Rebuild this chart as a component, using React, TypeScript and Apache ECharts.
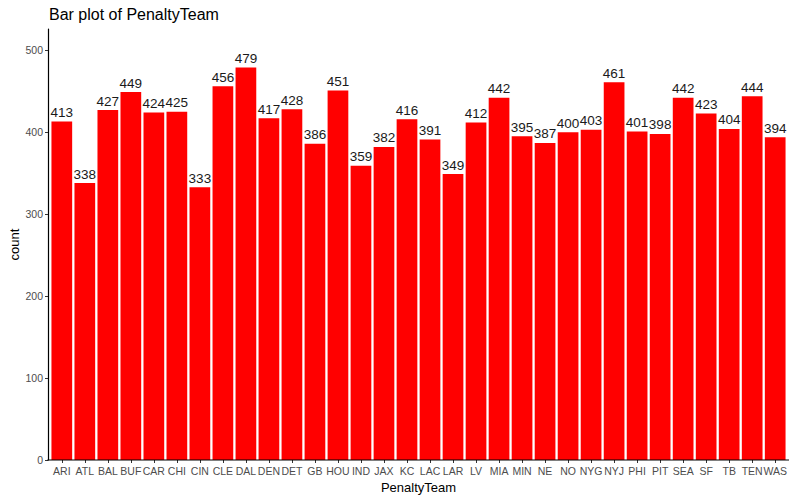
import React, { useEffect, useRef } from "react";
import * as echarts from "echarts";

const teams = ["ARI","ATL","BAL","BUF","CAR","CHI","CIN","CLE","DAL","DEN","DET","GB","HOU","IND","JAX","KC","LAC","LAR","LV","MIA","MIN","NE","NO","NYG","NYJ","PHI","PIT","SEA","SF","TB","TEN","WAS"];
const counts = [413,338,427,449,424,425,333,456,479,417,428,386,451,359,382,416,391,349,412,442,395,387,400,403,461,401,398,442,423,404,444,394];
const yTicks = [0,100,200,300,400,500];

const FONT = "'Liberation Sans', Arial, sans-serif";

// panel geometry (ggplot-like discrete expansion of 0.6 units each side)
const PANEL_LEFT = 48;
const PANEL_RIGHT = 789;
const PANEL_TOP = 29;
const PANEL_BOTTOM = 460;
const UNIT = (PANEL_RIGHT - PANEL_LEFT) / (teams.length - 1 + 1.2);
const GRID_LEFT = PANEL_LEFT + 0.1 * UNIT;
const GRID_RIGHT = 797 - (PANEL_RIGHT - 0.1 * UNIT);

export default function App() {
  const ref = useRef<HTMLDivElement>(null);
  useEffect(() => {
    document.body.style.margin = "0";
    const chart = echarts.init(ref.current!, null, { renderer: "svg" });
    chart.setOption({
      animation: false,
      backgroundColor: "#fff",
      textStyle: { fontFamily: FONT },
      title: {
        text: "Bar plot of PenaltyTeam",
        left: 44,
        top: 1,
        textStyle: { fontFamily: FONT, fontSize: 16, fontWeight: "normal", color: "#000" },
      },
      grid: {
        left: GRID_LEFT,
        right: GRID_RIGHT,
        top: PANEL_TOP,
        bottom: 500 - PANEL_BOTTOM,
        containLabel: false,
        outerBoundsMode: "none",
      },
      graphic: [
        {
          type: "line",
          shape: { x1: PANEL_LEFT - 0.6, y1: PANEL_BOTTOM, x2: PANEL_RIGHT, y2: PANEL_BOTTOM },
          style: { stroke: "#000", lineWidth: 1.2 },
          z: 10,
        },
      ],
      xAxis: {
        type: "category",
        data: teams,
        name: "PenaltyTeam",
        nameLocation: "middle",
        nameGap: 21,
        nameMoveOverlap: false,
        nameTextStyle: { fontFamily: FONT, fontSize: 13, color: "#000" },
        axisLine: { show: false },
        axisTick: { show: true, length: 3, alignWithLabel: true, lineStyle: { color: "#333" } },
        axisLabel: {
          interval: 0,
          fontFamily: FONT,
          fontSize: 10.5,
          color: "#4d4d4d",
          margin: 5,
        },
        splitLine: { show: false },
      },
      yAxis: {
        type: "value",
        min: 0,
        max: 526,
        offset: GRID_LEFT - PANEL_LEFT,
        name: "count",
        nameLocation: "middle",
        nameGap: 29 - (GRID_LEFT - PANEL_LEFT),
        nameMoveOverlap: false,
        nameRotate: 90,
        nameTextStyle: { fontFamily: FONT, fontSize: 13, color: "#000" },
        axisLine: { show: true, onZero: false, lineStyle: { color: "#000", width: 1.2 } },
        axisTick: { show: true, length: 3, customValues: yTicks, lineStyle: { color: "#333" } },
        axisLabel: {
          customValues: yTicks,
          fontFamily: FONT,
          fontSize: 10.5,
          color: "#4d4d4d",
          margin: 5,
        },
        splitLine: { show: false },
      },
      series: [
        {
          type: "bar",
          data: counts,
          barWidth: "90%",
          itemStyle: { color: "#FF0000" },
          label: {
            show: true,
            position: "top",
            distance: 2,
            fontFamily: FONT,
            fontSize: 13.5,
            color: "#1a1a1a",
          },
        },
      ],
    });
    return () => chart.dispose();
  }, []);
  return <div ref={ref} style={{ position: "fixed", left: 0, top: 0, width: 797, height: 500 }} />;
}
